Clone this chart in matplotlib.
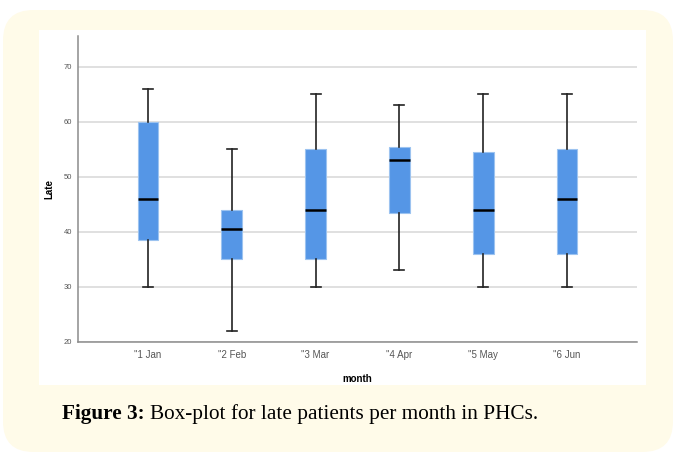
import numpy as np
import matplotlib.pyplot as plt
from matplotlib.patches import FancyBboxPatch, Rectangle

months = ['"1 Jan', '"2 Feb', '"3 Mar', '"4 Apr', '"5 May', '"6 Jun']
whisker_low = [30, 22, 30, 33, 30, 30]
q1 = [38.5, 35, 35, 43.5, 36, 36]
median = [46, 40.5, 44, 53, 44, 46]
q3 = [60, 44, 55, 55.5, 54.5, 55]
whisker_high = [66, 55, 65, 63, 65, 65]

W, H = 675, 454
fig = plt.figure(figsize=(W / 100, H / 100), dpi=100)
fig.patch.set_facecolor('white')

# panel background: rounded cream frame with white chart area
frame = FancyBboxPatch((3 / W, 1 - 452 / H), 670 / W, 442 / H,
                       boxstyle='round,pad=0,rounding_size=0.045',
                       transform=fig.transFigure, facecolor='#fffbe9',
                       edgecolor='none', zorder=-2, mutation_aspect=W / H)
fig.patches.append(frame)
inner = Rectangle((39 / W, 1 - 385 / H), 607 / W, 355 / H,
                  transform=fig.transFigure, facecolor='white',
                  edgecolor='none', zorder=-1)
fig.patches.append(inner)

ax = fig.add_axes([78 / W, 1 - 342 / H, 559 / W, 306 / H])
ax.set_facecolor('none')

stats = []
for i in range(len(months)):
    stats.append({'whislo': whisker_low[i], 'q1': q1[i], 'med': median[i],
                  'q3': q3[i], 'whishi': whisker_high[i], 'fliers': [],
                  'label': months[i]})

pos = np.arange(1, len(months) + 1)
ax.bxp(stats, positions=pos, widths=0.25, patch_artist=True,
       boxprops=dict(facecolor='#5596e6', edgecolor='#9cc3f0', linewidth=0.8),
       medianprops=dict(color='black', linewidth=1.8),
       whiskerprops=dict(color='#222222', linewidth=1.2),
       capprops=dict(color='#222222', linewidth=1.2),
       capwidths=0.12, zorder=3)

ax.set_xlim(0.165, 6.835)
ax.set_ylim(20, 75.6)
ax.set_yticks([20, 30, 40, 50, 60, 70])
ax.yaxis.grid(True, color='#dddddd', linewidth=1.3, zorder=0)
ax.set_axisbelow(True)

for s in ['top', 'right']:
    ax.spines[s].set_visible(False)
for s in ['left', 'bottom']:
    ax.spines[s].set_color('#8c8c8c')
    ax.spines[s].set_linewidth(1.1)

ax.tick_params(axis='both', length=0, colors='#555555')
ax.tick_params(axis='y', labelsize=5.5, pad=4)
ax.tick_params(axis='x', labelsize=7, pad=6)
for lbl in ax.get_xticklabels() + ax.get_yticklabels():
    lbl.set_fontfamily('Liberation Sans')

ax.set_ylabel('Late', fontsize=7, fontweight='bold', family='Liberation Sans',
              labelpad=7)
ax.set_xlabel('month', fontsize=7, fontweight='bold', family='Liberation Sans',
              labelpad=10)

# caption: bold label followed by regular text, sized to span ~476 px
renderer = fig.canvas.get_renderer()
cap_size = 16
x0 = 62
for _ in range(3):
    t1 = fig.text(x0 / W, 1 - 419 / H, 'Figure 3:', fontsize=cap_size,
                  fontweight='bold', family='Liberation Serif',
                  va='baseline', ha='left')
    w1 = t1.get_window_extent(renderer).width
    t2 = fig.text((x0 + w1 + cap_size * 0.35) / W, 1 - 419 / H,
                  'Box-plot for late patients per month in PHCs.',
                  fontsize=cap_size, family='Liberation Serif',
                  va='baseline', ha='left')
    total = t2.get_window_extent(renderer).x1 - x0
    if abs(total - 476) < 3:
        break
    t1.remove()
    t2.remove()
    cap_size *= 476 / total

fig.savefig('out.png', dpi=100)
